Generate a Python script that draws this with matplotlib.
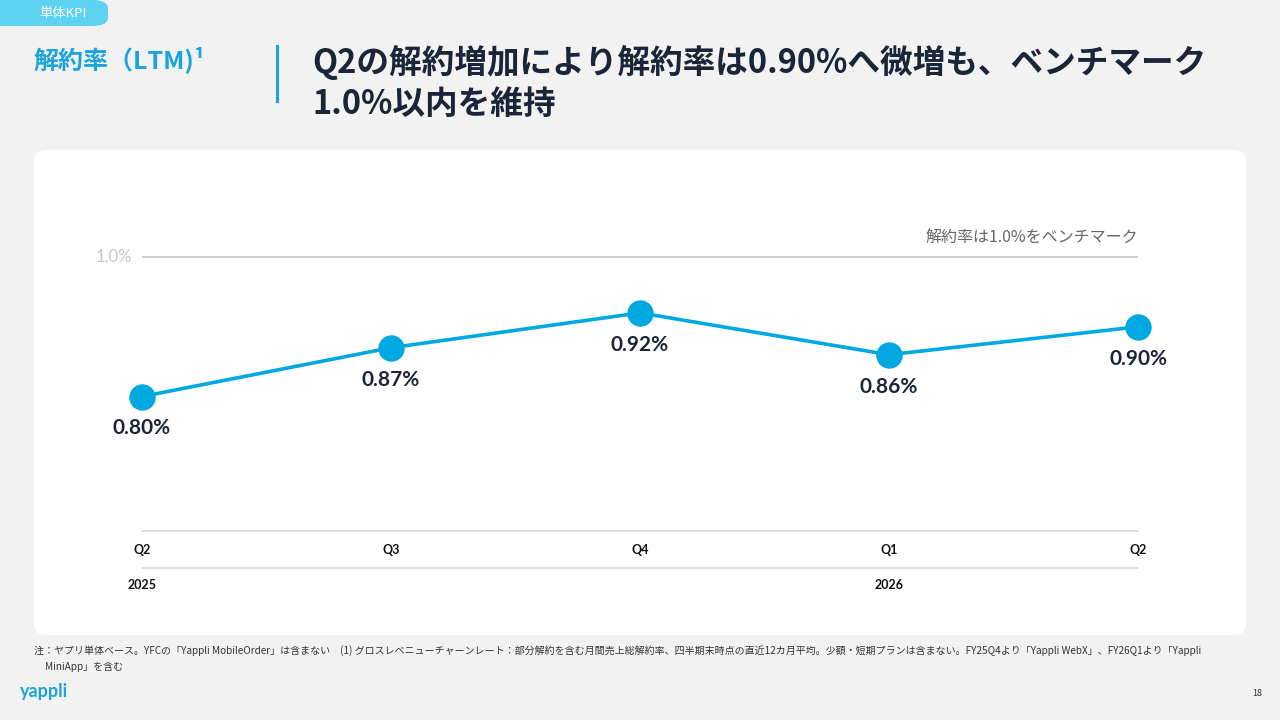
import matplotlib
matplotlib.use("Agg")
import matplotlib.pyplot as plt
from matplotlib.patches import FancyBboxPatch
from matplotlib.lines import Line2D
import matplotlib.transforms as mtransforms

plt.rcParams["font.family"] = ["Noto Sans CJK JP", "DejaVu Sans"]

QUARTERS  = ["Q2", "Q3", "Q4", "Q1", "Q2"]
YEARS     = ["2025", "", "", "2026", ""]
CHURN     = [0.80, 0.87, 0.92, 0.86, 0.90]
LABELS    = ["0.80%", "0.87%", "0.92%", "0.86%", "0.90%"]
BENCHMARK = 1.0

TAB_TEXT   = "単体KPI"
SECTION    = "解約率（LTM)¹"
HEADLINE   = ["Q2の解約増加により解約率は0.90%へ微増も、ベンチマーク", "1.0%以内を維持"]
BENCH_NOTE = "解約率は1.0%をベンチマーク"
FOOT_1 = ("注：ヤプリ単体ベース。YFCの「Yappli MobileOrder」は含まない　(1) グロスレベニューチャーンレート：部分解約を含む月間売上総解約率、"
          "四半期末時点の直近12カ月平均。少額・短期プランは含まない。FY25Q4より「Yappli WebX」、FY26Q1より「Yappli")
FOOT_2 = "MiniApp」を含む"

BLUE  = "#00a8e1"
NAVY  = "#1b2538"
BG    = "#f2f2f2"
W, H  = 1280, 720

def fx(x): return x / W
def fy(y): return 1 - y / H

fig = plt.figure(figsize=(12.8, 7.2), dpi=100, facecolor=BG)

# white card
card = FancyBboxPatch((fx(34), fy(635)), fx(1246 - 34), (635 - 150) / H,
                      boxstyle="round,pad=0,rounding_size=0.012",
                      transform=fig.transFigure, facecolor="white",
                      edgecolor="none", zorder=0)
fig.add_artist(card)

# top-left tab
tab = FancyBboxPatch((fx(-20), fy(26)), fx(128), 26 / H,
                     boxstyle="round,pad=0,rounding_size=0.012",
                     transform=fig.transFigure, facecolor="#5ed3f1",
                     edgecolor="none", zorder=1)
fig.add_artist(tab)
fig.text(fx(63), fy(13), TAB_TEXT, color="white", fontsize=9.5,
         ha="center", va="center")

# header
fig.text(fx(34), fy(60), SECTION, color="#1ba3dc", fontsize=18,
         fontweight="bold", ha="left", va="center")
fig.add_artist(Line2D([fx(277), fx(277)], [fy(46), fy(101)], color="#1ba3dc",
                      linewidth=2.2, transform=fig.transFigure))
fig.text(fx(312), fy(62), HEADLINE[0], color=NAVY, fontsize=23.5,
         fontweight="bold", ha="left", va="center")
fig.text(fx(312), fy(104), HEADLINE[1], color=NAVY, fontsize=23.5,
         fontweight="bold", ha="left", va="center")

# chart axes
ax = fig.add_axes([fx(142), fy(531), fx(1138 - 142), (531 - 200) / H])
ax.set_facecolor("none")
x = list(range(len(CHURN)))
ax.set_xlim(0, len(CHURN) - 1)
ax.set_ylim(0.607, 1.082)

ax.axhline(BENCHMARK, color="#c8c9ce", linewidth=1.3, zorder=1)
ax.text(-0.04, BENCHMARK, "1.0%", ha="right", va="center", fontsize=12,
        color="#c2c5cc", family=["Lato", "Noto Sans CJK JP"])
ax.text(len(CHURN) - 1, BENCHMARK + 0.028, BENCH_NOTE, ha="right", va="center",
        fontsize=11.5, color="#666666")

ax.plot(x, CHURN, color=BLUE, linewidth=2.6, zorder=3, clip_on=False)
ax.plot(x, CHURN, "o", color=BLUE, markersize=19, markeredgewidth=0,
        zorder=4, clip_on=False)
for xi, v, lab in zip(x, CHURN, LABELS):
    ax.annotate(lab, (xi, v), xytext=(0, -23), textcoords="offset points",
                ha="center", va="center", fontsize=15, color=NAVY,
                fontweight="bold", family=["Lato", "Noto Sans CJK JP"])

for s in ["top", "left", "right"]:
    ax.spines[s].set_visible(False)
ax.spines["bottom"].set_color("#dcdcdc")
ax.spines["bottom"].set_linewidth(1.3)
ax.set_yticks([])
ax.set_xticks(x)
ax.set_xticklabels(QUARTERS, fontsize=9, fontweight="bold", color="#111111",
                   family=["Lato", "Noto Sans CJK JP"])
ax.tick_params(axis="x", length=0, pad=9)

trans = mtransforms.blended_transform_factory(ax.transData, ax.transAxes)
ax.add_line(Line2D([0, len(CHURN) - 1], [-0.112, -0.112], color="#dcdcdc",
                   linewidth=1.3, transform=trans, clip_on=False))
for xi, yr in zip(x, YEARS):
    if yr:
        ax.text(xi, -0.163, yr, transform=trans, ha="center", va="center",
                fontsize=9, fontweight="bold", color="#111111",
                family=["Lato", "Noto Sans CJK JP"])

# footnotes
fig.text(fx(34), fy(651), FOOT_1, fontsize=7.2, color="#333333",
         ha="left", va="center")
fig.text(fx(45), fy(667), FOOT_2, fontsize=7.2, color="#333333",
         ha="left", va="center")

# logo and page
fig.text(fx(20), fy(692), "yappli", fontsize=13, color="#1ba3dc",
         fontweight="bold", ha="left", va="center",
         family=["Lato", "DejaVu Sans"])
fig.text(fx(1262), fy(693), "18", fontsize=6.5, color="#333333",
         ha="right", va="center")

fig.savefig("out.png", dpi=100, facecolor=BG)
